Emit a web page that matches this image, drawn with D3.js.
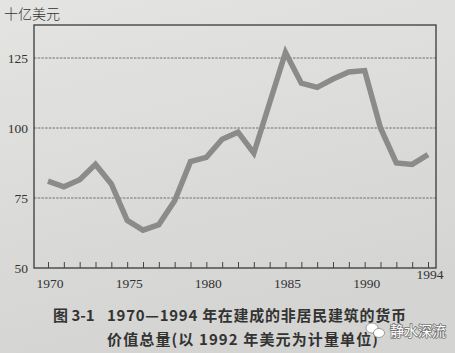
<!DOCTYPE html>
<html>
<head>
<meta charset="utf-8">
<script src="https://cdn.jsdelivr.net/npm/d3@7"></script>
<style>
  html, body { margin: 0; padding: 0; background: #e0e0de; }
  svg { display: block; }
</style>
</head>
<body>
<svg id="chart" width="455" height="353"></svg>
<script>
// 1970-1994, billions of 1992 dollars
var years = [1970, 1971, 1972, 1973, 1974, 1975, 1976, 1977, 1978, 1979, 1980, 1981, 1982,
             1983, 1984, 1985, 1986, 1987, 1988, 1989, 1990, 1991, 1992, 1993, 1994];
var values = [81, 79, 81.5, 87, 80, 67, 63.5, 65.5, 74, 88, 89.5, 96, 98.5,
              91, 109, 127, 116, 114.5, 117.5, 120, 120.5, 100, 87.5, 87, 90.5];
var yTicks = [50, 75, 100, 125];
var xLabels = [1970, 1975, 1980, 1985, 1990, 1994];
var unitLabel = '十亿美元';
var captionNo = '图 3-1';
var captionLines = ['1970—1994 年在建成的非居民建筑的货币', '价值总量(以 1992 年美元为计量单位)'];
var watermark = '静水深流';

var W = 455, H = 353;
var frame = {left: 34, right: 436, top: 25, bottom: 268};

var svg = d3.select('#chart');

// paper background
var defs = svg.append('defs');
var grad = defs.append('linearGradient').attr('id', 'paper')
    .attr('x1', 0).attr('y1', 0).attr('x2', 0.3).attr('y2', 1);
grad.append('stop').attr('offset', '0%').attr('stop-color', '#e4e4e2');
grad.append('stop').attr('offset', '100%').attr('stop-color', '#d4d4d2');
svg.append('rect').attr('width', W).attr('height', H).attr('fill', 'url(#paper)');

var x = d3.scaleLinear().domain([1970, 1994]).range([48, 428]);
var y = d3.scaleLinear().domain([50, 125]).range([frame.bottom, 58]);

// gridlines
svg.append('g')
    .selectAll('line')
    .data(yTicks.filter(function(d) { return d > 50; }))
    .enter()
    .append('line')
    .attr('x1', frame.left)
    .attr('x2', frame.right)
    .attr('y1', function(d) { return y(d); })
    .attr('y2', function(d) { return y(d); })
    .attr('stroke', '#555')
    .attr('stroke-width', 0.8)
    .attr('stroke-dasharray', '2.5,1.2');

// frame
svg.append('rect')
    .attr('x', frame.left)
    .attr('y', frame.top)
    .attr('width', frame.right - frame.left)
    .attr('height', frame.bottom - frame.top)
    .attr('fill', 'none')
    .attr('stroke', '#3a3a3a')
    .attr('stroke-width', 1.3);

// inward year ticks on the bottom edge
var xAxis = d3.axisTop(x)
    .tickValues(years)
    .tickSize(6)
    .tickFormat('');
var gx = svg.append('g')
    .attr('transform', 'translate(0,' + frame.bottom + ')')
    .call(xAxis);
gx.select('.domain').remove();
gx.selectAll('line').attr('stroke', '#444').attr('stroke-width', 1);

// x labels
svg.append('g')
    .selectAll('text')
    .data(xLabels)
    .enter()
    .append('text')
    .attr('x', function(d) { return x(d) + 2; })
    .attr('y', function(d) { return d === 1994 ? 279 : 288; })
    .attr('text-anchor', 'middle')
    .attr('font-family', 'Liberation Serif, serif')
    .attr('font-size', 13.5)
    .attr('fill', '#333')
    .text(function(d) { return d; });

// y labels
var yAxis = d3.axisLeft(y)
    .tickValues(yTicks)
    .tickSize(0)
    .tickPadding(6);
var gy = svg.append('g')
    .attr('transform', 'translate(' + frame.left + ',0)')
    .call(yAxis);
gy.select('.domain').remove();
gy.selectAll('text')
    .attr('font-family', 'Liberation Serif, serif')
    .attr('font-size', 13.5)
    .attr('fill', '#333');

// unit label
svg.append('text')
    .attr('x', 4)
    .attr('y', 19)
    .attr('font-family', 'Noto Sans CJK SC, sans-serif')
    .attr('font-size', 14)
    .attr('font-weight', 300)
    .attr('fill', '#333')
    .text(unitLabel);

// data line
var line = d3.line()
    .x(function(d, i) { return x(years[i]); })
    .y(function(d) { return y(d); });
svg.append('path')
    .datum(values)
    .attr('d', line)
    .attr('fill', 'none')
    .attr('stroke', '#8b8b8b')
    .attr('stroke-width', 5.5)
    .attr('stroke-linejoin', 'miter');

// caption
svg.append('text')
    .attr('x', 53)
    .attr('y', 321)
    .attr('font-family', 'Noto Sans CJK SC, sans-serif')
    .attr('font-size', 15)
    .attr('font-weight', 700)
    .attr('fill', '#333')
    .text(captionNo);
svg.selectAll('text.cap')
    .data(captionLines)
    .enter()
    .append('text')
    .attr('class', 'cap')
    .attr('x', 107)
    .attr('y', function(d, i) { return 321 + i * 24; })
    .attr('textLength', function(d, i) { return i === 0 ? 299 : 271; })
    .attr('lengthAdjust', 'spacing')
    .attr('font-family', 'Noto Sans CJK SC, sans-serif')
    .attr('font-size', 15)
    .attr('font-weight', 700)
    .attr('fill', '#333')
    .text(function(d) { return d; });

// watermark
var wm = svg.append('g').attr('transform', 'translate(376,331)');
wm.append('ellipse').attr('cx', -4).attr('cy', -3).attr('rx', 6).attr('ry', 5)
    .attr('fill', '#fff').attr('stroke', '#888').attr('stroke-width', 0.8);
wm.append('ellipse').attr('cx', 3).attr('cy', 2).attr('rx', 5.5).attr('ry', 4.5)
    .attr('fill', '#fff').attr('stroke', '#888').attr('stroke-width', 0.8);
wm.append('text')
    .attr('x', 14)
    .attr('y', 5)
    .attr('font-family', 'Noto Sans CJK SC, sans-serif')
    .attr('font-size', 14)
    .attr('fill', '#fff')
    .attr('stroke', '#777')
    .attr('stroke-width', 1.6)
    .attr('paint-order', 'stroke')
    .text(watermark);
</script>
</body>
</html>
